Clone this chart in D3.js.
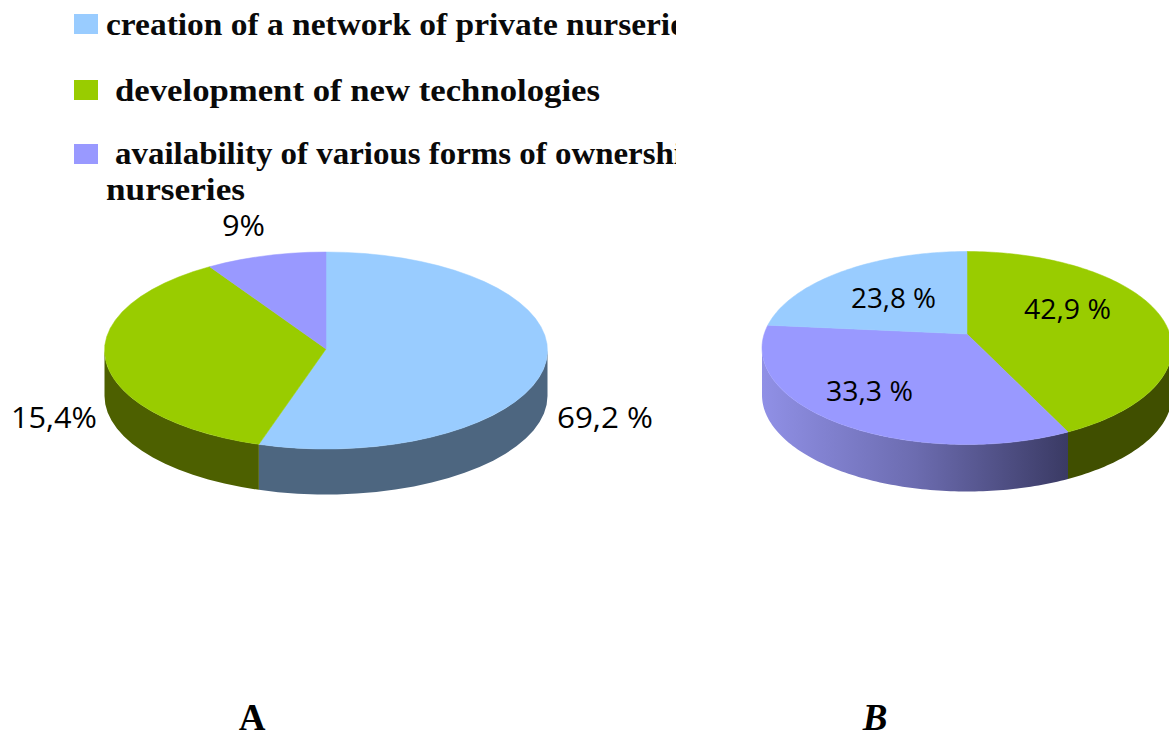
<!DOCTYPE html>
<html><head><meta charset="utf-8">
<script src="https://cdn.jsdelivr.net/npm/d3@7"></script>
<style>html,body{margin:0;background:#fff;overflow:hidden}svg{display:block}</style>
</head><body><svg id="c" width="1169" height="731"></svg>
<script>
const legendLabels = ["creation of a network of private nurseries","development of new technologies","availability of various forms of ownership of","nurseries"];
const categories = ["network","technologies","ownership"];
const sharesA = [54.9, 36.3, 8.8];
const labelsA = ["69,2 %","15,4%","9%"];
const orderB = ["technologies","ownership","network"];
const sharesB = [41.8, 37.0, 21.2];
const labelsB = ["42,9 %","33,3 %","23,8 %"];
const topColors = {network:"#99CCFF",technologies:"#99CC00",ownership:"#9999FF"};
const sideColorsA = {network:"#4D6680",technologies:"#4D6000",ownership:"#4D4D80"};
const sideColorsB = {network:"#4D6680",technologies:"#404F00",ownership:"url(#sideGrad)"};

const svg = d3.select("#c");
const defs = svg.append("defs");
const g = defs.append("linearGradient").attr("id","sideGrad").attr("gradientUnits","userSpaceOnUse")
  .attr("x1",762).attr("x2",1068).attr("y1",0).attr("y2",0);
g.append("stop").attr("offset",0).attr("stop-color","#9090E6");
g.append("stop").attr("offset",.5).attr("stop-color","#6C6CB0");
g.append("stop").attr("offset",1).attr("stop-color","#3A3A64");
defs.append("clipPath").attr("id","legendClip").append("rect").attr("x",0).attr("y",0).attr("width",676).attr("height",210);
defs.append("clipPath").attr("id","pageClip").append("rect").attr("x",0).attr("y",0).attr("width",1169).attr("height",731);

function drawPie(opt){
  const arcs = d3.pie().sort(null).value(d=>d.v).startAngle(0).endAngle(2*Math.PI)(opt.keys.map((k,i)=>({k,v:opt.shares[i]})));
  const px = a=>opt.cx+opt.rx*Math.sin(a), py = a=>opt.cy-opt.ry*Math.cos(a);
  const line = d3.line();
  const sample = (a0,a1)=>{const n=Math.max(1,Math.ceil((a1-a0)/opt.step));return d3.range(n+1).map(i=>a0+(a1-a0)*i/n);};
  const root = svg.append("g").attr("clip-path","url(#pageClip)");
  arcs.forEach(d=>{
    const a0=Math.max(d.startAngle,Math.PI/2), a1=Math.min(d.endAngle,3*Math.PI/2);
    if(a1<=a0) return;
    const s=sample(a0,a1);
    const pts=s.map(a=>[px(a),py(a)]).concat(s.slice().reverse().map(a=>[px(a),py(a)+opt.depth]));
    root.append("path").attr("d",line(pts)+"Z").attr("fill",opt.side[d.data.k]);
  });
  arcs.forEach(d=>{
    const pts=[[opt.cx,opt.apexY]].concat(sample(d.startAngle,d.endAngle).map(a=>[px(a),py(a)]));
    root.append("path").attr("d",line(pts)+"Z").attr("fill",topColors[d.data.k])
      .attr("stroke",topColors[d.data.k]).attr("stroke-width",.5);
  });
}
drawPie({keys:categories,shares:sharesA,cx:326,cy:350.5,apexY:349,rx:221.5,ry:98.5,depth:45.5,step:.09,side:sideColorsA});
drawPie({keys:orderB,shares:sharesB,cx:967,cy:348,apexY:334,rx:205,ry:96.5,depth:47,step:.02,side:sideColorsB});

const sans="'Open Sans','Noto Sans',sans-serif";
const label=(t,x,y,s,w)=>svg.append("text").attr("x",x).attr("y",y).attr("font-family",sans).attr("font-size",s).attr("fill","#000")
  .attr("textLength",w).attr("lengthAdjust","spacingAndGlyphs").text(t);
label(labelsA[0],557,428,29,96);
label(labelsA[1],11,428,29,86);
label(labelsA[2],222,236,29,43);
label(labelsB[0],1024,319,28,87);
label(labelsB[1],826,401,28,87);
label(labelsB[2],851,308,28,85);

const lg=svg.append("g").attr("clip-path","url(#legendClip)");
const serif="'Liberation Serif','Times New Roman',serif";
[[legendLabels[0],106,35,592],[legendLabels[1],115,101,485],[legendLabels[2],115,164,622],[legendLabels[3],106,200,139]].forEach(([t,x,y,w])=>{
  lg.append("text").attr("x",x).attr("y",y).attr("font-family",serif).attr("font-weight","bold").attr("font-size",31).attr("fill","#0a0a0a")
    .attr("textLength",w).attr("lengthAdjust","spacingAndGlyphs").text(t);
});
[[14,"network"],[80,"technologies"],[144,"ownership"]].forEach(([y,k])=>{
  svg.append("rect").attr("x",74).attr("y",y).attr("width",24).attr("height",20).attr("fill",topColors[k]);
});
svg.append("text").attr("x",252).attr("y",730).attr("text-anchor","middle").attr("font-family",serif).attr("font-weight","bold").attr("font-size",37).text("A");
svg.append("text").attr("x",875).attr("y",730).attr("text-anchor","middle").attr("font-family",serif).attr("font-weight","bold").attr("font-style","italic").attr("font-size",37).text("B");
</script></body></html>
